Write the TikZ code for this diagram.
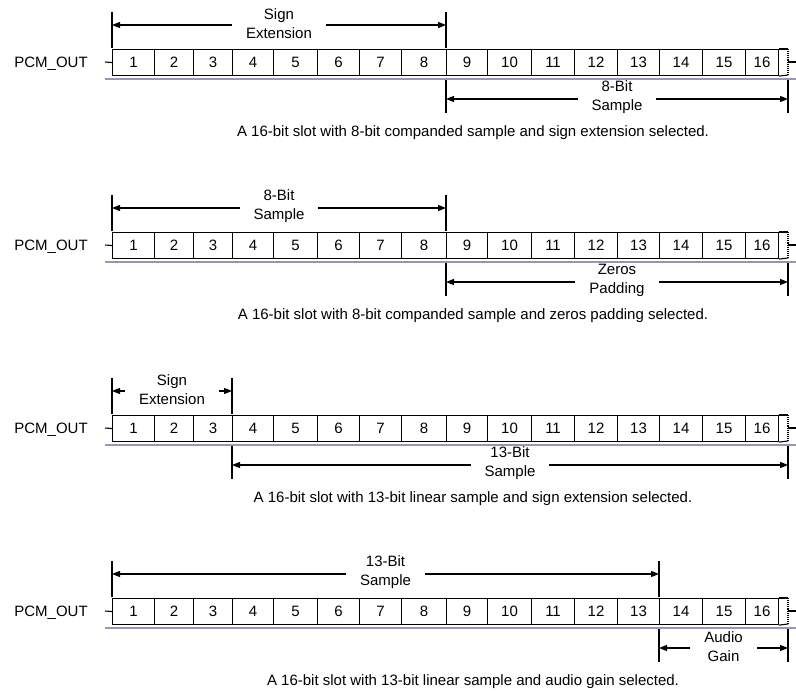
\documentclass[tikz,border=0pt]{standalone}
\usepackage{fontspec}
\setmainfont{Liberation Sans}
\usetikzlibrary{arrows.meta}
\definecolor{rulegray}{RGB}{150,150,185}
\newcommand\dimar[8]{%
  \coordinate (#1-a) at (#2,#4);
  \coordinate (#1-b) at (#3,#4);
  \coordinate (#1-ta1) at (#2,#5);
  \coordinate (#1-ta2) at (#2,#6);
  \coordinate (#1-tb1) at (#3,#5);
  \coordinate (#1-tb2) at (#3,#6);
  \draw[tickline] (#1-ta1) -- (#1-ta2);
  \draw[tickline] (#1-tb1) -- (#1-tb2);
  \draw[dimline] (#1-a) -- (#1-b);
  \node[dimlabel] (#1-t) at ({(#2+#3)/2},#7) {#8};
}
\newcommand\pcmrow[2]{%
  \node[txt, anchor=base] (#1-lbl) at (51,67.5) {PCM\_OUT};
  \foreach \a/\b [count=\i] in {112/154,154/193,193/232,232/273,273/317,317/359,359/401,401/446,446/487,487/531,531/574,574/617,617/659,659/702,702/745,745/778}{
    \pgfmathsetmacro\w{\b-\a}
    \node[cell, minimum width=\w pt] (#1-c\i) at (\a,49) {\i};
  }
  \coordinate (#1-et) at (788,49);
  \coordinate (#1-eb) at (788,75);
  \coordinate (#1-end) at (788,62);
  \coordinate (#1-in) at (105,62);
  \coordinate (#1-out) at (796,62);
  \coordinate (#1-g1) at (105,79);
  \coordinate (#1-g2) at (796,79);
  \draw[boxline] (#1-c16.north east) -- (#1-et);
  \draw[boxline] (#1-c16.south east) -- (#1-eb);
  \draw[boxline, densely dotted] (#1-et) -- (#1-eb);
  \draw[boxline] (#1-in) -- (#1-c1.west);
  \draw[boxline] (#1-end) -- (#1-out);
  \draw[rulegray, line width=1.4pt] (#1-g1) -- (#1-g2);
  \node[txt] (#1-cap) at (473,133) {#2};
}
\begin{document}
\begin{tikzpicture}[x=1pt,y=-1pt,
  every node/.style={font=\fontsize{15}{19}\selectfont},
  txt/.style={inner sep=0pt},
  cell/.style={draw, line width=1.1pt, minimum height=26pt, inner sep=0pt, anchor=north west},
  boxline/.style={line width=1.1pt},
  tickline/.style={line width=1.1pt},
  dimline/.style={line width=1.1pt, {Triangle[length=8pt,width=6pt]}-{Triangle[length=8pt,width=6pt]}},
  dimlabel/.style={fill=white, inner xsep=14pt, inner ysep=0pt, align=center}]
\useasboundingbox[fill=white] (0,0) rectangle (796,692);
% Row 1
\begin{scope}
  \pcmrow{r1}{A 16-bit slot with 8-bit companded sample and sign extension selected.}
  \dimar{r1u}{112}{446}{25}{12}{48}{23.5}{Sign\\Extension}
  \dimar{r1l}{446}{788}{99}{80}{113}{97.5}{8-Bit\\Sample}
\end{scope}
% Row 2
\begin{scope}[yshift=-183pt]
  \pcmrow{r2}{A 16-bit slot with 8-bit companded sample and zeros padding selected.}
  \dimar{r2u}{112}{446}{25}{12}{48}{23.5}{8-Bit\\Sample}
  \dimar{r2l}{446}{788}{99}{80}{113}{97.5}{Zeros\\Padding}
\end{scope}
% Row 3
\begin{scope}[yshift=-366pt]
  \pcmrow{r3}{A 16-bit slot with 13-bit linear sample and sign extension selected.}
  \dimar{r3u}{112}{232}{25}{12}{48}{23.5}{Sign\\Extension}
  \dimar{r3l}{232}{788}{99}{80}{113}{97.5}{13-Bit\\Sample}
\end{scope}
% Row 4
\begin{scope}[yshift=-549pt]
  \pcmrow{r4}{A 16-bit slot with 13-bit linear sample and audio gain selected.}
  \dimar{r4u}{112}{659}{25}{12}{48}{23.5}{13-Bit\\Sample}
  \dimar{r4l}{659}{788}{99}{80}{113}{97.5}{Audio\\Gain}
\end{scope}
\end{tikzpicture}
\end{document}
